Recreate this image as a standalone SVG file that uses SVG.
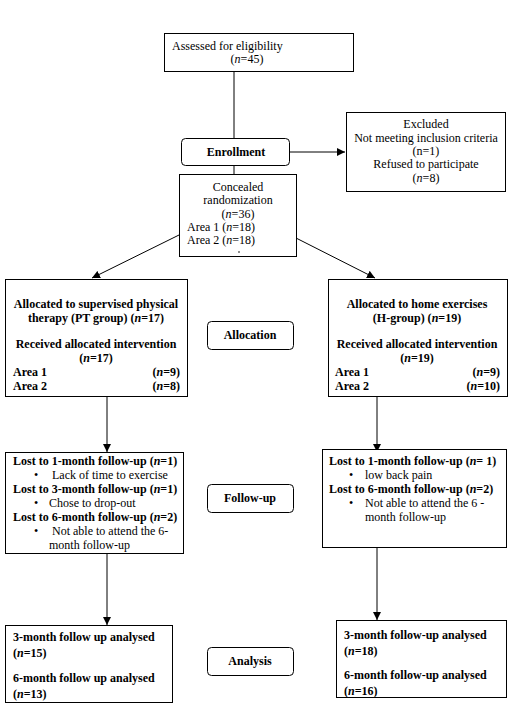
<svg xmlns="http://www.w3.org/2000/svg" width="523" height="709" viewBox="0 0 523 709">
<defs>
<marker id="ah" viewBox="0 0 10 10" refX="10" refY="5" markerWidth="8" markerHeight="8" markerUnits="userSpaceOnUse" orient="auto">
<path d="M0,0 L10,5 L0,10 z" fill="#000"/>
</marker>
<style>
text{font-family:"Liberation Serif","Times New Roman",serif;font-size:12px;fill:#000}
.b{font-weight:bold}
.c{text-anchor:middle}
.r{text-anchor:end}
.box{fill:#fff;stroke:#000;stroke-width:1}
.lbl{fill:#fff;stroke:#000;stroke-width:1}
.ln{stroke:#000;stroke-width:1;fill:none}
</style>
</defs>
<rect width="523" height="709" fill="#fff"/>
<g id="connectors">
<line class="ln" x1="234" y1="71" x2="234" y2="174"/>
<line class="ln" x1="289" y1="152" x2="345" y2="152" marker-end="url(#ah)"/>
<line class="ln" x1="179" y1="235" x2="92" y2="278" marker-end="url(#ah)"/>
<line class="ln" x1="296" y1="238" x2="375" y2="278" marker-end="url(#ah)"/>
<line class="ln" x1="107" y1="396" x2="107" y2="452" marker-end="url(#ah)"/>
<line class="ln" x1="377" y1="396" x2="377" y2="452" marker-end="url(#ah)"/>
<line class="ln" x1="107" y1="553" x2="107" y2="625" marker-end="url(#ah)"/>
<line class="ln" x1="377" y1="548" x2="377" y2="620" marker-end="url(#ah)"/>
</g>
<g id="assessed">
<rect class="box" x="164.5" y="33.5" width="189" height="38"/>
<text x="172" y="50">Assessed for eligibility</text>
<text x="247" y="63" class="c">(<tspan font-style="italic">n</tspan>=45)</text>
</g>
<g id="enrollment">
<rect class="lbl" x="181.5" y="138.5" width="108" height="27" rx="4"/>
<text x="236" y="156" class="c b">Enrollment</text>
</g>
<g id="excluded">
<rect class="box" x="346.5" y="112.5" width="159" height="79"/>
<text x="426" y="128" class="c">Excluded</text>
<text x="426" y="142" class="c">Not meeting inclusion criteria</text>
<text x="426" y="155" class="c">(n=1)</text>
<text x="426" y="168" class="c">Refused to participate</text>
<text x="426" y="182" class="c">(<tspan font-style="italic">n</tspan>=8)</text>
</g>
<g id="randomization">
<rect class="box" x="179.5" y="174.5" width="117" height="82"/>
<text x="238" y="191" class="c">Concealed</text>
<text x="238" y="204" class="c">randomization</text>
<text x="238" y="218" class="c">(<tspan font-style="italic">n</tspan>=36)</text>
<text x="187" y="231">Area 1 (<tspan font-style="italic">n</tspan>=18)</text>
<text x="187" y="244">Area 2 (<tspan font-style="italic">n</tspan>=18)</text>
<circle cx="239" cy="252" r="0.8" fill="#000"/>
</g>
<g id="alloc-pt">
<rect class="box" x="5.5" y="279.5" width="182" height="117"/>
<text x="96" y="308" class="c b">Allocated to supervised physical</text>
<text x="96" y="322" class="c b">therapy (PT group) (<tspan font-style="italic">n</tspan>=17)</text>
<text x="96" y="348" class="c b">Received allocated intervention</text>
<text x="96" y="362" class="c b">(<tspan font-style="italic">n</tspan>=17)</text>
<text x="13" y="376" class="b">Area 1</text>
<text x="180" y="376" class="r b">(<tspan font-style="italic">n</tspan>=9)</text>
<text x="13" y="390" class="b">Area 2</text>
<text x="180" y="390" class="r b">(<tspan font-style="italic">n</tspan>=8)</text>
</g>
<g id="allocation">
<rect class="lbl" x="207.5" y="321.5" width="86" height="28" rx="4"/>
<text x="250" y="339" class="c b">Allocation</text>
</g>
<g id="alloc-h">
<rect class="box" x="328.5" y="279.5" width="179" height="117"/>
<text x="417" y="308" class="c b">Allocated to home exercises</text>
<text x="417" y="322" class="c b">(H-group) (<tspan font-style="italic">n</tspan>=19)</text>
<text x="417" y="348" class="c b">Received allocated intervention</text>
<text x="417" y="362" class="c b">(<tspan font-style="italic">n</tspan>=19)</text>
<text x="335" y="376" class="b">Area 1</text>
<text x="500" y="376" class="r b">(<tspan font-style="italic">n</tspan>=9)</text>
<text x="335" y="390" class="b">Area 2</text>
<text x="500" y="390" class="r b">(<tspan font-style="italic">n</tspan>=10)</text>
</g>
<g id="followup-pt">
<rect class="box" x="5.5" y="452.5" width="178" height="101"/>
<text x="13" y="465" class="b">Lost to 1-month follow-up (<tspan font-style="italic">n</tspan>=1)</text>
<text x="34" y="479">•</text>
<text x="52" y="479">Lack of time to exercise</text>
<text x="13" y="493" class="b">Lost to 3-month follow-up (<tspan font-style="italic">n</tspan>=1)</text>
<text x="34" y="507">•</text>
<text x="49" y="507">Chose to drop-out</text>
<text x="13" y="521" class="b">Lost to 6-month follow-up (<tspan font-style="italic">n</tspan>=2)</text>
<text x="34" y="535">•</text>
<text x="52" y="535">Not able to attend the 6-</text>
<text x="49" y="549">month follow-up</text>
</g>
<g id="followup">
<rect class="lbl" x="207.5" y="484.5" width="86" height="28" rx="4"/>
<text x="250" y="502" class="c b">Follow-up</text>
</g>
<g id="followup-h">
<rect class="box" x="322.5" y="449.5" width="184" height="98"/>
<text x="329" y="465" class="b">Lost to 1-month follow-up (<tspan font-style="italic">n</tspan>= 1)</text>
<text x="349" y="479">•</text>
<text x="365" y="479">low back pain</text>
<text x="329" y="493" class="b">Lost to 6-month follow-up (<tspan font-style="italic">n</tspan>=2)</text>
<text x="349" y="507">•</text>
<text x="365" y="507">Not able to attend the 6 -</text>
<text x="365" y="521">month follow-up</text>
</g>
<g id="analysis-pt">
<rect class="box" x="5.5" y="625.5" width="167" height="77"/>
<text x="13" y="641" class="b">3-month follow up analysed</text>
<text x="13" y="657" class="b">(<tspan font-style="italic">n</tspan>=15)</text>
<text x="13" y="682" class="b">6-month follow up analysed</text>
<text x="13" y="698" class="b">(<tspan font-style="italic">n</tspan>=13)</text>
</g>
<g id="analysis">
<rect class="lbl" x="207.5" y="647.5" width="86" height="28" rx="4"/>
<text x="250" y="665" class="c b">Analysis</text>
</g>
<g id="analysis-h">
<rect class="box" x="336.5" y="620.5" width="170" height="77"/>
<text x="344" y="639" class="b">3-month follow-up analysed</text>
<text x="344" y="655" class="b">(<tspan font-style="italic">n</tspan>=18)</text>
<text x="344" y="679" class="b">6-month follow-up analysed</text>
<text x="344" y="695" class="b">(<tspan font-style="italic">n</tspan>=16)</text>
</g>
</svg>
